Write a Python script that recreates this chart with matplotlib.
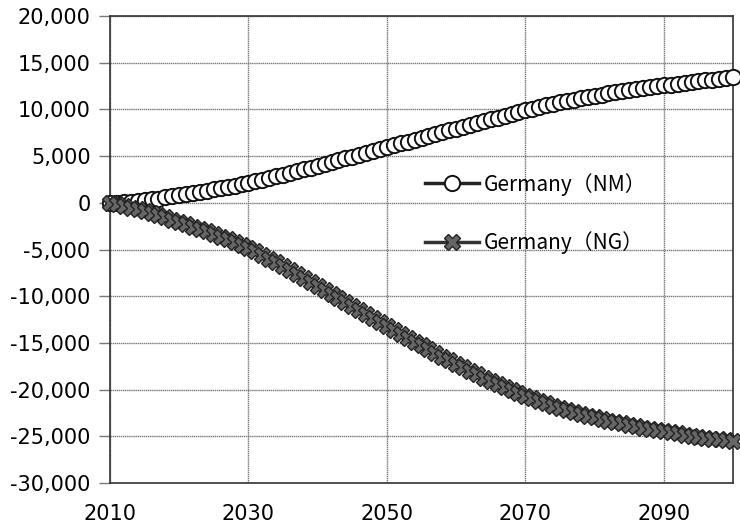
import numpy as np
import matplotlib.pyplot as plt

years = list(range(2010, 2101))

germany_nm = [
    0, 20, 60, 120, 190, 270, 360, 460, 570, 690,
    810, 930, 1050, 1180, 1310, 1440, 1560, 1690, 1830, 1960,
    2100, 2285, 2470, 2655, 2840, 3025, 3210, 3395, 3580, 3765,
    3950, 4150, 4350, 4550, 4750, 4950, 5150, 5350, 5550, 5750,
    5950, 6150, 6350, 6550, 6750, 6950, 7150, 7350, 7550, 7750,
    7950, 8145, 8340, 8535, 8730, 8925, 9120, 9315, 9510, 9705,
    9900, 10080, 10255, 10425, 10590, 10750, 10900, 11045, 11185, 11320,
    11450, 11580, 11705, 11825, 11940, 12050, 12160, 12265, 12365, 12465,
    12560, 12660, 12760, 12855, 12945, 13035, 13120, 13200, 13280, 13360,
    13440,
]

germany_ng = [
    0, -160, -330, -510, -700, -900, -1110, -1330, -1560, -1800,
    -2050, -2300, -2550, -2810, -3070, -3340, -3620, -3910, -4200, -4500,
    -4800, -5180, -5570, -5965, -6365, -6770, -7180, -7595, -8015, -8440,
    -8870, -9300, -9730, -10160, -10590, -11020, -11450, -11880, -12310, -12740,
    -13170, -13595, -14020, -14440, -14855, -15265, -15670, -16070, -16465, -16855,
    -17240, -17620, -17995, -18365, -18725, -19075, -19415, -19745, -20060, -20360,
    -20650, -20935, -21210, -21475, -21730, -21970, -22195, -22405, -22605, -22795,
    -22975, -23145, -23310, -23470, -23625, -23775, -23920, -24060, -24195, -24325,
    -24450, -24575, -24695, -24810, -24920, -25030, -25135, -25235, -25335, -25430,
    -25525,
]

labels = ["Germany（NM）", "Germany（NG）"]
xticks = [2010, 2030, 2050, 2070, 2090]
yticks = list(range(-30000, 20001, 5000))

plt.rcParams['font.family'] = ['DejaVu Sans']

fig = plt.figure(figsize=(7.4, 5.28), dpi=100)
ax = fig.add_axes([0.1486, 0.0852, 0.842, 0.8845])

ax.plot(years, germany_nm, color='#222222', lw=2.5, marker='o', ms=11,
        mfc='white', mec='#111111', mew=1.4, clip_on=False, zorder=3,
        label=labels[0])
ax.plot(years, germany_ng, color='#333333', lw=2.5, marker='X', ms=11,
        mfc='#666666', mec='#222222', mew=1.0, clip_on=False, zorder=4,
        label=labels[1])

ax.set_xlim(2010, 2100)
ax.set_ylim(-30000, 20000)
ax.set_xticks(xticks)
ax.set_yticks(yticks)
ax.yaxis.set_major_formatter(plt.FuncFormatter(lambda v, p: f"{int(v):,}"))
ax.grid(True, color='#777777', lw=1.0, ls=(0, (1, 0.5)))
ax.set_axisbelow(True)
ax.tick_params(axis='y', length=8, width=1, color='#777777', pad=6, labelsize=15)
ax.tick_params(axis='x', length=0, pad=15, labelsize=15)
for s in ax.spines.values():
    s.set_color('#333333')
    s.set_linewidth(1.2)

ax.legend(loc='upper left', bbox_to_anchor=(0.506, 0.664), frameon=False,
          numpoints=1, handlelength=2.6, handletextpad=0.2, labelspacing=1.7,
          borderpad=0, borderaxespad=0,
          prop={'family': ['Noto Sans CJK JP', 'DejaVu Sans'], 'size': 15})

fig.savefig('out.png', dpi=100)
